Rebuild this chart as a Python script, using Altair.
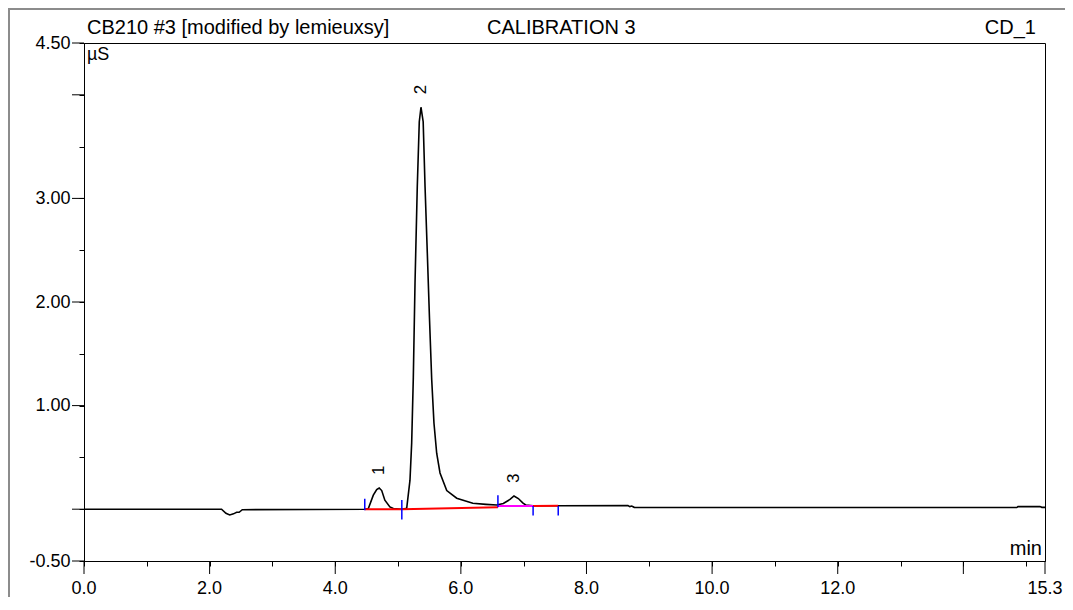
import altair as alt
import pandas as pd

# ---------------- data ----------------
time_min = [0.00, 2.19, 2.26, 2.32, 2.38, 2.43, 2.47, 2.52, 4.47, 4.527, 4.606, 4.66,
            4.70, 4.74, 4.79, 4.87, 4.925, 5.06, 5.138, 5.19, 5.217, 5.243, 5.27, 5.306,
            5.338, 5.365, 5.40, 5.43, 5.466, 5.50, 5.536, 5.572, 5.615, 5.668, 5.775,
            5.934, 6.19, 6.40, 6.57, 6.676, 6.782, 6.846, 6.915, 6.985, 7.037, 7.15,
            7.55, 8.66, 8.69, 8.72, 8.76, 9.50, 12.00, 14.85, 14.87, 15.22, 15.25, 15.30]
signal_us = [0.00, 0.00, -0.04, -0.055, -0.045, -0.03, -0.03, -0.005, 0.00, 0.007, 0.135, 0.19,
             0.205, 0.18, 0.087, 0.022, 0.007, 0.00, 0.01, 0.28, 0.64, 1.27, 2.18, 3.11,
             3.74, 3.88, 3.74, 3.11, 2.47, 1.85, 1.25, 0.83, 0.54, 0.35, 0.18,
             0.106, 0.058, 0.047, 0.04, 0.055, 0.094, 0.128, 0.103, 0.061, 0.039, 0.033,
             0.033, 0.035, 0.025, 0.03, 0.018, 0.016, 0.016, 0.016, 0.025, 0.025, 0.018, 0.018]

peak_rt = [4.70, 5.365, 6.846]
peak_height = [0.205, 3.88, 0.128]
peak_label = ["1", "2", "3"]

base_t0 = [4.47, 5.06, 6.59, 7.15]
base_t1 = [5.06, 6.59, 7.15, 7.55]
base_y0 = [0.0, 0.0, 0.030, 0.032]
base_y1 = [0.0, 0.018, 0.032, 0.034]
base_kind = ["baseline", "baseline", "peak3", "baseline"]

marker_t = [4.47, 5.06, 6.59, 7.15, 7.55]
marker_lo = [-0.01, -0.10, 0.02, -0.06, -0.06]
marker_hi = [0.10, 0.09, 0.135, 0.03, 0.03]

y_ticks = [-0.5, -0.25, 0.0, 0.25, 0.5, 0.75, 1.0, 1.25, 1.5, 1.75, 2.0, 2.25, 2.5,
           2.75, 3.0, 3.25, 3.5, 3.75, 4.0, 4.25, 4.5]
y_major = [-0.5, 0.0, 1.0, 2.0, 3.0, 4.0, 4.5]
y_labels = [-0.5, 1.0, 2.0, 3.0, 4.5]

x_ticks = [0.0, 0.5, 1.0, 1.5, 2.0, 2.5, 3.0, 3.5, 4.0, 4.5, 5.0, 5.5, 6.0, 6.5, 7.0,
           7.5, 8.0, 8.5, 9.0, 9.5, 10.0, 10.5, 11.0, 11.5, 12.0, 12.5, 13.0, 13.5,
           14.0, 14.5, 15.0, 15.3]
x_major = [0.0, 2.0, 4.0, 6.0, 8.0, 10.0, 12.0, 14.0, 15.3]
x_labels = [0.0, 2.0, 4.0, 6.0, 8.0, 10.0, 12.0, 15.3]

title_left = "CB210 #3 [modified by lemieuxsy]"
title_mid = "CALIBRATION 3"
title_right = "CD_1"
y_unit = "µS"
x_unit = "min"

# ---------------- chart ----------------
FONT = "Liberation Sans"
W, H = 961, 518
PAD_R = 20
xs = alt.Scale(domain=[0, 15.3], nice=False, zero=False)
ys = alt.Scale(domain=[-0.5, 4.5], nice=False, zero=False)

trace = pd.DataFrame({"t": time_min, "s": signal_us})
peaks = pd.DataFrame({"t": peak_rt, "h": peak_height, "lab": peak_label})
base = pd.DataFrame({"t0": base_t0, "t1": base_t1, "y0": base_y0, "y1": base_y1, "k": base_kind})
marks = pd.DataFrame({"t": marker_t, "lo": marker_lo, "hi": marker_hi})
ymaj = pd.DataFrame({"v": y_major})
xmaj = pd.DataFrame({"v": x_major})
xlab = pd.DataFrame({"v": x_labels})
one = pd.DataFrame({"a": [0]})

ylab_list = ",".join(str(v) for v in y_labels)

x_axis = alt.Axis(values=x_ticks, tickSize=5, tickColor="black", domainColor="black",
                  labels=False, grid=False, title=None)
y_axis = alt.Axis(values=y_ticks, tickSize=5, tickColor="black", domainColor="black",
                  labelExpr=(f"indexof([{ylab_list}], datum.value) >= 0 ? "
                             "(datum.value < 0 ? '-' + format(abs(datum.value), '.2f') : format(datum.value, '.2f')) : ''"),
                  labelFont=FONT, labelFontSize=18, labelColor="black", labelPadding=9,
                  labelFlush=False, labelOverlap=False, labelBound=False, grid=False, title=None)

line = alt.Chart(trace).mark_line(color="black", strokeWidth=1.6).encode(
    x=alt.X("t:Q", scale=xs, axis=x_axis),
    y=alt.Y("s:Q", scale=ys, axis=y_axis),
)

baselines = alt.Chart(base).mark_rule(strokeWidth=2).encode(
    x=alt.X("t0:Q", scale=xs), x2="t1:Q",
    y=alt.Y("y0:Q", scale=ys), y2="y1:Q",
    color=alt.Color("k:N", scale=alt.Scale(domain=["baseline", "peak3"], range=["#ff0000", "#ff00ff"]),
                    legend=None),
    strokeWidth=alt.StrokeWidth("k:N", scale=alt.Scale(domain=["baseline", "peak3"], range=[2, 3]),
                                legend=None),
)

delims = alt.Chart(marks).mark_rule(color="#0000ff", strokeWidth=1.5).encode(
    x=alt.X("t:Q", scale=xs),
    y=alt.Y("lo:Q", scale=ys), y2="hi:Q",
)

labels = alt.Chart(peaks).mark_text(angle=270, align="left", baseline="middle", dx=13,
                                    font=FONT, fontSize=17, color="black").encode(
    x=alt.X("t:Q", scale=xs),
    y=alt.Y("h:Q", scale=ys),
    text="lab:N",
)

y_major_ticks = alt.Chart(ymaj).mark_rule(color="black", strokeWidth=1).encode(
    y=alt.Y("v:Q", scale=ys), x=alt.value(-12), x2=alt.value(0))
x_major_ticks = alt.Chart(xmaj).mark_rule(color="black", strokeWidth=1).encode(
    x=alt.X("v:Q", scale=xs), y=alt.value(H), y2=alt.value(H + 13))

x_tick_labels = alt.Chart(xlab).mark_text(
    align="center", baseline="alphabetic", font=FONT, fontSize=18, color="black"
).encode(
    x=alt.X("v:Q", scale=xs), y=alt.value(H + 33),
    text=alt.Text("v:Q", format=".1f"),
)


def note(txt, x, y, align="left", baseline="alphabetic", size=20):
    return alt.Chart(pd.DataFrame({"txt": [txt]})).mark_text(
        align=align, baseline=baseline, font=FONT, fontSize=size, color="black"
    ).encode(x=alt.value(x), y=alt.value(y), text="txt:N")


t1 = note(title_left, 3, -9)
t2 = note(title_mid, 403, -9)
t3 = note(title_right, 952, -9, align="right")
u1 = note(y_unit, 3, 17, size=18)
u2 = note(x_unit, 958, 512, align="right")

frame_left = alt.Chart(one).mark_rule(color="#8c8c8c", strokeWidth=2).encode(
    x=alt.value(-75), y=alt.value(-35), y2=alt.value(H + 36))
frame_top = alt.Chart(one).mark_rule(color="#8c8c8c", strokeWidth=2).encode(
    x=alt.value(-76), x2=alt.value(W + PAD_R), y=alt.value(-34))

chart = alt.layer(
    line, baselines, delims, labels, y_major_ticks, x_major_ticks, x_tick_labels,
    t1, t2, t3, u1, u2, frame_left, frame_top,
).properties(
    width=W, height=H,
    padding={"left": 76, "top": 35, "right": PAD_R, "bottom": 36},
    autosize=alt.AutoSizeParams(type="none"),
    background="white",
).configure_view(stroke="black", strokeWidth=1)

chart.save("out.html", embed_options={"renderer": "svg", "actions": False})
